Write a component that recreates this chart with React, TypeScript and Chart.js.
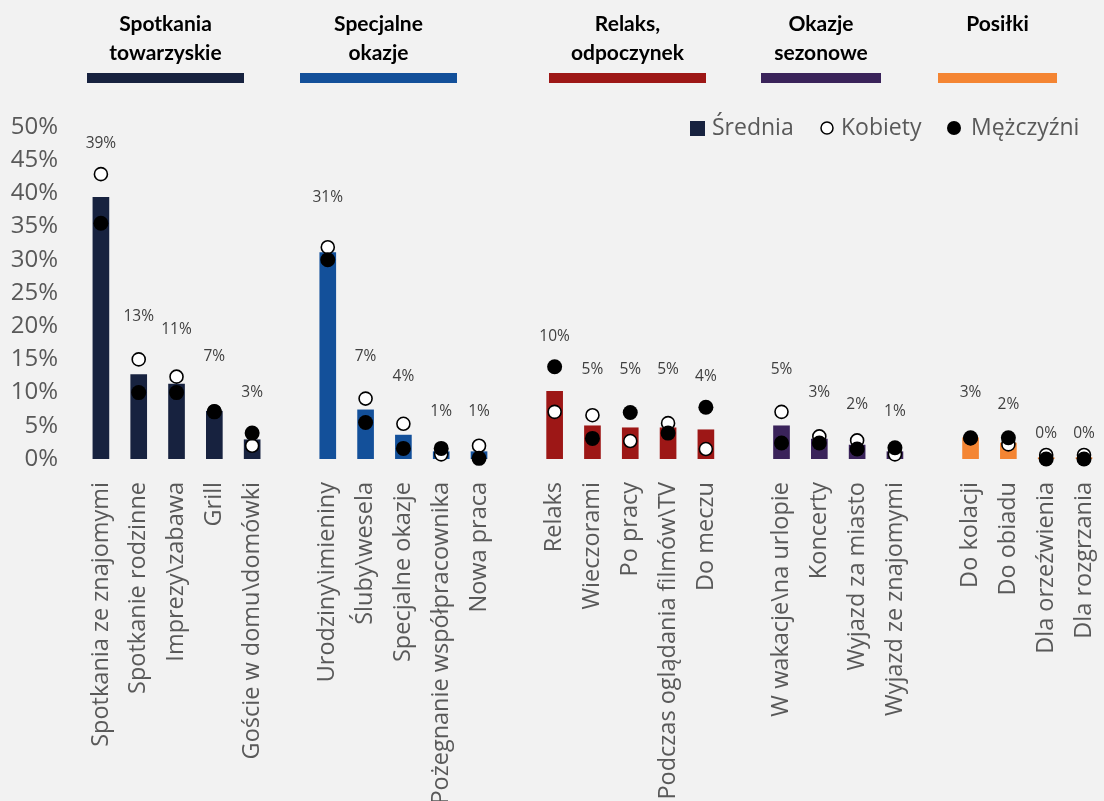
import { useEffect, useRef } from 'react';
import { Chart, registerables } from 'chart.js';

Chart.register(...registerables);

// Occasion groups, drawn left to right with one empty slot between them
const groupTitles = [
  ['Spotkania', 'towarzyskie'],
  ['Specjalne', 'okazje'],
  ['Relaks,', 'odpoczynek'],
  ['Okazje', 'sezonowe'],
  ['Posiłki'],
];
const groupColors = ['#17223f', '#13509a', '#9d1716', '#3a235a', '#f48533'];
const groupSizes = [5, 5, 5, 4, 4];

const categories = [
  'Spotkania ze znajomymi', 'Spotkanie rodzinne', 'Imprezy\\zabawa', 'Grill', 'Goście w domu\\domówki',
  'Urodziny\\imieniny', 'Śluby\\wesela', 'Specjalne okazje', 'Pożegnanie współpracownika', 'Nowa praca',
  'Relaks', 'Wieczorami', 'Po pracy', 'Podczas oglądania filmów\\TV', 'Do meczu',
  'W wakacje\\na urlopie', 'Koncerty', 'Wyjazd za miasto', 'Wyjazd ze znajomymi',
  'Do kolacji', 'Do obiadu', 'Dla orzeźwienia', 'Dla rozgrzania',
];

// Shares in percent
const averageValues = [
  39.4, 12.7, 11.3, 7.2, 2.9,
  31.1, 7.4, 3.6, 1.1, 1.1,
  10.2, 5.0, 4.7, 4.7, 4.4,
  5.0, 3.0, 2.1, 1.1,
  3.2, 2.4, 0.2, 0.2,
];
const womenValues = [
  42.9, 15.0, 12.4, 7.2, 2.0,
  31.9, 9.1, 5.3, 0.7, 2.0,
  7.1, 6.6, 2.7, 5.4, 1.5,
  7.1, 3.4, 2.8, 0.7,
  3.1, 2.2, 0.6, 0.6,
];
const menValues = [
  35.5, 10.0, 10.0, 7.1, 3.9,
  30.0, 5.5, 1.6, 1.6, 0.1,
  13.9, 3.1, 7.0, 3.9, 7.8,
  2.4, 2.4, 1.5, 1.7,
  3.2, 3.2, 0.0, 0.0,
];

const yMax = 50;
const yStep = 5;

const legendItems = ['Średnia', 'Kobiety', 'Mężczyźni'];

// Header band placement (pixels) above each group
const headerBands = [
  { left: 87, right: 244 },
  { left: 300, right: 457 },
  { left: 549, right: 706 },
  { left: 761, right: 881 },
  { left: 938, right: 1057 },
];

const TEXT_GRAY = '#595959';
const LABEL_GRAY = '#404040';
const SANS = '"Open Sans", "DejaVu Sans", sans-serif';
const HEAD = 'Lato, "Open Sans", sans-serif';

// Build the slot sequence with a blank slot between groups
const slotLabels: string[] = [];
const slotAvg: (number | null)[] = [];
const slotWomen: (number | null)[] = [];
const slotMen: (number | null)[] = [];
const slotColors: string[] = [];
{
  let k = 0;
  groupSizes.forEach((n, g) => {
    if (g > 0) {
      slotLabels.push('');
      slotAvg.push(null);
      slotWomen.push(null);
      slotMen.push(null);
      slotColors.push('rgba(0,0,0,0)');
    }
    for (let i = 0; i < n; i++, k++) {
      slotLabels.push(categories[k]);
      slotAvg.push(averageValues[k]);
      slotWomen.push(womenValues[k]);
      slotMen.push(menValues[k]);
      slotColors.push(groupColors[g]);
    }
  });
}

// Distance of a value label above its rounded value
function labelLift(r: number) {
  if (r === 0) return 25;
  if (r <= 2) return 41;
  if (r === 3) return 47;
  return 56;
}

const decorations = {
  id: 'decorations',
  afterDatasetsDraw(chart: any) {
    const { ctx, scales } = chart;
    const xs = scales.x;
    const ys = scales.y;
    ctx.save();

    // value labels
    ctx.font = `15.5px ${SANS}`;
    ctx.fillStyle = LABEL_GRAY;
    ctx.textAlign = 'center';
    ctx.textBaseline = 'middle';
    slotAvg.forEach((v, i) => {
      if (v === null) return;
      const r = Math.round(v);
      const x = xs.getPixelForValue(i);
      const y = ys.getPixelForValue(r) - labelLift(r);
      ctx.fillText(`${r}%`, x, y);
    });

    // group headers
    groupTitles.forEach((lines, g) => {
      const band = headerBands[g];
      const cx = (band.left + band.right) / 2;
      ctx.fillStyle = '#000000';
      ctx.font = `bold 21px ${HEAD}`;
      ctx.textAlign = 'center';
      ctx.textBaseline = 'middle';
      lines.forEach((t, li) => ctx.fillText(t, cx, 24 + li * 29));
      ctx.fillStyle = groupColors[g];
      ctx.fillRect(band.left, 73, band.right - band.left, 10);
    });

    // legend
    ctx.font = `23px ${SANS}`;
    ctx.textAlign = 'left';
    ctx.textBaseline = 'middle';
    const ly = 128;
    ctx.fillStyle = groupColors[0];
    ctx.fillRect(690, 121, 15, 15);
    ctx.fillStyle = TEXT_GRAY;
    ctx.fillText(legendItems[0], 712, ly);

    ctx.beginPath();
    ctx.arc(827, ly, 6, 0, Math.PI * 2);
    ctx.fillStyle = '#ffffff';
    ctx.fill();
    ctx.lineWidth = 1.5;
    ctx.strokeStyle = '#000000';
    ctx.stroke();
    ctx.fillStyle = TEXT_GRAY;
    ctx.fillText(legendItems[1], 841, ly);

    ctx.beginPath();
    ctx.arc(954, ly, 7, 0, Math.PI * 2);
    ctx.fillStyle = '#000000';
    ctx.fill();
    ctx.fillStyle = TEXT_GRAY;
    ctx.fillText(legendItems[2], 971, ly);

    ctx.restore();
  },
};

export default function App() {
  const canvasRef = useRef<HTMLCanvasElement | null>(null);

  useEffect(() => {
    const canvas = canvasRef.current;
    if (!canvas) return;
    const chart = new Chart(canvas, {
      type: 'bar',
      data: {
        labels: slotLabels,
        datasets: [
          {
            type: 'bar',
            label: legendItems[0],
            data: slotAvg,
            backgroundColor: slotColors,
            barThickness: 16,
            order: 3,
          } as any,
          {
            type: 'line',
            label: legendItems[1],
            data: slotWomen,
            showLine: false,
            pointRadius: 6.5,
            pointBackgroundColor: '#ffffff',
            pointBorderColor: '#000000',
            pointBorderWidth: 1.6,
            clip: false,
            order: 2,
          } as any,
          {
            type: 'line',
            label: legendItems[2],
            data: slotMen,
            showLine: false,
            pointRadius: 7.5,
            pointBackgroundColor: '#000000',
            pointBorderColor: '#000000',
            pointBorderWidth: 0,
            clip: false,
            order: 1,
          } as any,
        ],
      },
      options: {
        responsive: false,
        animation: false,
        devicePixelRatio: 1,
        layout: { padding: { top: 127, left: 0, right: 0, bottom: 0 } },
        plugins: {
          legend: { display: false },
          tooltip: { enabled: false },
        },
        scales: {
          x: {
            grid: { display: false },
            border: { display: false },
            ticks: {
              autoSkip: false,
              maxRotation: 90,
              minRotation: 90,
              padding: 15,
              color: TEXT_GRAY,
              font: { family: SANS, size: 23.5 },
            },
            afterFit(scale: any) {
              scale.height = 342;
              scale.paddingLeft = 0;
              scale.paddingRight = 0;
            },
          },
          y: {
            min: 0,
            max: yMax,
            grid: { display: false },
            border: { display: false },
            ticks: {
              stepSize: yStep,
              padding: 16,
              color: TEXT_GRAY,
              font: { family: SANS, size: 24 },
              callback: (v: any) => `${v}%`,
            },
            afterFit(scale: any) {
              scale.width = 82;
              scale.paddingTop = 0;
              scale.paddingBottom = 0;
            },
          },
        },
      },
      plugins: [decorations],
    });
    return () => chart.destroy();
  }, []);

  return (
    <div
      style={{
        position: 'fixed',
        left: 0,
        top: 0,
        width: 1104,
        height: 801,
        overflow: 'hidden',
        background: '#f2f2f2',
      }}
    >
      <canvas ref={canvasRef} width={1111} height={801} style={{ display: 'block' }} />
    </div>
  );
}
